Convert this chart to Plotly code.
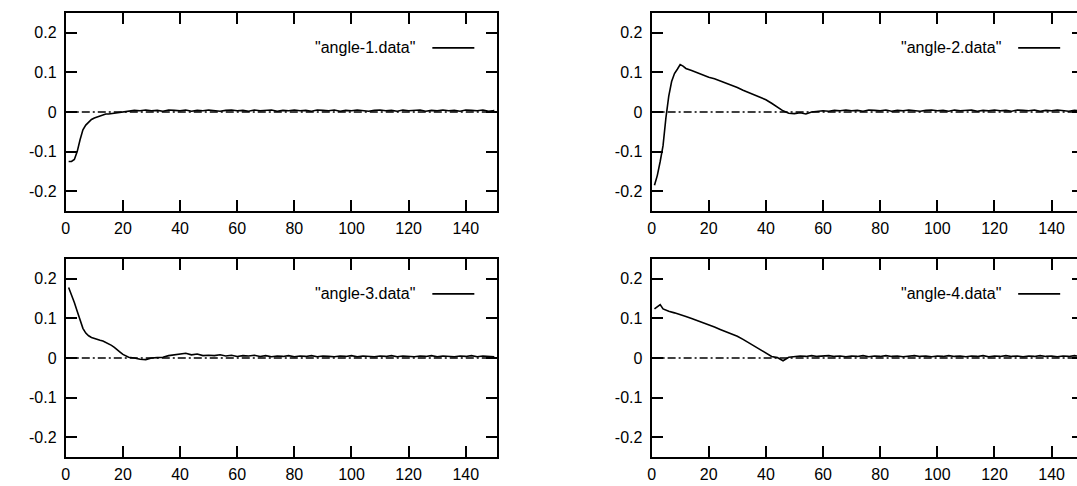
import plotly.graph_objects as go

# ---------------- data ----------------
x_tick_vals = [0, 20, 40, 60, 80, 100, 120, 140]
x_tick_text = ["0", "20", "40", "60", "80", "100", "120", "140"]
y_tick_vals = [-0.2, -0.1, 0, 0.1, 0.2]
y_tick_text = ["-0.2", "-0.1", "0", "0.1", "0.2"]

series_names = ['"angle-1.data"', '"angle-2.data"', '"angle-3.data"', '"angle-4.data"']

angle1_x = list(range(1, 21)) + list(range(22, 151, 2))
angle1_y = [-0.125, -0.125, -0.12, -0.10, -0.07, -0.045, -0.033, -0.025, -0.019, -0.015,
            -0.012, -0.009, -0.007, -0.005, -0.005, -0.004, -0.002, -0.002, -0.001, 0.0,
            0.002, 0.004, 0.003, 0.005, 0.003, 0.004, 0.002, 0.005, 0.004, 0.003,
            0.005, 0.002, 0.004, 0.003, 0.005, 0.004, 0.002, 0.004, 0.005, 0.003,
            0.004, 0.002, 0.005, 0.003, 0.004, 0.005, 0.002, 0.004, 0.003, 0.005,
            0.003, 0.004, 0.002, 0.005, 0.004, 0.003, 0.005, 0.002, 0.004, 0.003,
            0.005, 0.004, 0.002, 0.004, 0.005, 0.003, 0.004, 0.002, 0.005, 0.003,
            0.004, 0.005, 0.002, 0.004, 0.003, 0.005, 0.003, 0.004, 0.002, 0.005,
            0.004, 0.003, 0.005, 0.002, 0.004]

angle2_x = list(range(1, 13)) + list(range(14, 151, 2))
angle2_y = [-0.185, -0.16, -0.125, -0.085, -0.015, 0.04, 0.077, 0.097, 0.108, 0.12,
            0.116, 0.11,
            0.105, 0.099, 0.094, 0.088, 0.084, 0.079, 0.074, 0.069, 0.062, 0.055,
            0.049, 0.043, 0.037, 0.031, 0.022, 0.012, 0.003, -0.003, -0.004, -0.002,
            -0.005, 0.0,
            0.002, 0.003, 0.002, 0.004, 0.003, 0.005, 0.003, 0.004, 0.002, 0.005,
            0.004, 0.003, 0.005, 0.002, 0.004, 0.003, 0.005, 0.004, 0.002, 0.004,
            0.005, 0.003, 0.004, 0.002, 0.005, 0.003, 0.004, 0.005, 0.002, 0.004,
            0.003, 0.005, 0.003, 0.004, 0.002, 0.005, 0.004, 0.003, 0.005, 0.002,
            0.004, 0.003, 0.005, 0.004, 0.002, 0.004, 0.003]

angle3_x = list(range(1, 23)) + list(range(24, 151, 2))
angle3_y = [0.178, 0.16, 0.14, 0.118, 0.095, 0.075, 0.063, 0.056, 0.052, 0.049,
            0.047, 0.045, 0.043, 0.04, 0.037, 0.032, 0.027, 0.022, 0.015, 0.009,
            0.005, 0.002,
            0.0, -0.003, -0.004, 0.0, 0.001, 0.002, 0.006, 0.008, 0.01, 0.012,
            0.008, 0.01, 0.006,
            0.007, 0.006, 0.008, 0.005, 0.007, 0.004, 0.006, 0.005, 0.007, 0.004,
            0.006, 0.003, 0.005, 0.004, 0.006, 0.003, 0.005, 0.004, 0.006, 0.003,
            0.005, 0.004, 0.003, 0.005, 0.004, 0.006, 0.003, 0.005, 0.004, 0.003,
            0.005, 0.004, 0.006, 0.003, 0.005, 0.004, 0.003, 0.005, 0.004, 0.006,
            0.003, 0.005, 0.004, 0.003, 0.005, 0.004, 0.006, 0.003, 0.005, 0.004,
            0.003]

angle4_x = list(range(1, 7)) + list(range(8, 151, 2))
angle4_y = [0.124, 0.13, 0.135, 0.124, 0.12, 0.118,
            0.114, 0.11, 0.105, 0.1, 0.095, 0.089, 0.085, 0.078, 0.072, 0.067,
            0.061, 0.055, 0.047, 0.038, 0.029, 0.02, 0.013, 0.004, 0.001, -0.007,
            0.002,
            0.003, 0.005, 0.004, 0.006, 0.004, 0.005, 0.006, 0.004, 0.005, 0.003,
            0.005, 0.004, 0.006, 0.003, 0.005, 0.004, 0.006, 0.004, 0.005, 0.003,
            0.005, 0.006, 0.004, 0.005, 0.003, 0.005, 0.004, 0.006, 0.004, 0.005,
            0.003, 0.005, 0.004, 0.006, 0.003, 0.005, 0.004, 0.006, 0.004, 0.005,
            0.003, 0.005, 0.004, 0.006, 0.004, 0.005, 0.003, 0.005, 0.004, 0.006,
            0.004]

xs = [angle1_x, angle2_x, angle3_x, angle4_x]
ys = [angle1_y, angle2_y, angle3_y, angle4_y]

# ---------------- layout ----------------
# The figure is a little wider than the window: the right column's frame
# runs past the window edge, as in the reference.
W, H = 1092, 486
FONT = dict(family="Liberation Sans, Arial, sans-serif", size=16, color="black")

col_dom = [[62 / W, 495 / W], [650 / W, 1083 / W]]
row_dom = [[1 - 211 / H, 1 - 13 / H], [1 - 457 / H, 1 - 259 / H]]
x_range = [0, 151]
y_range = [-0.25, 0.25]

fig = go.Figure()
layout = dict(width=W, height=H, margin=dict(l=0, r=0, t=0, b=0),
              paper_bgcolor="white", plot_bgcolor="white", showlegend=False,
              font=FONT, shapes=[], annotations=[])

for i in range(4):
    r, c = divmod(i, 2)
    xn = "" if i == 0 else str(i + 1)
    xa, ya = "x" + xn, "y" + xn
    fig.add_trace(go.Scatter(x=xs[i], y=ys[i], mode="lines", name=series_names[i],
                             line=dict(color="black", width=1.6),
                             xaxis=xa, yaxis=ya, hoverinfo="skip"))
    layout["xaxis" + xn] = dict(domain=col_dom[c], range=x_range, anchor=ya,
                                tickvals=x_tick_vals, ticktext=x_tick_text,
                                ticks="inside", ticklen=11, tickwidth=2, tickcolor="black",
                                showline=True, linewidth=2, linecolor="black",
                                mirror="ticks", showgrid=False, zeroline=False,
                                ticklabelstandoff=2, tickfont=FONT)
    layout["yaxis" + xn] = dict(domain=row_dom[r], range=y_range, anchor=xa,
                                tickvals=y_tick_vals, ticktext=y_tick_text,
                                ticks="inside", ticklen=11, tickwidth=2, tickcolor="black",
                                showline=True, linewidth=2, linecolor="black",
                                mirror="ticks", showgrid=False, zeroline=False,
                                ticklabelstandoff=4, tickfont=FONT)
    # dash-dot zero axis
    layout["shapes"].append(dict(type="line", xref=xa + " domain", yref=ya,
                                 x0=0, x1=1, y0=0, y1=0, layer="below",
                                 line=dict(color="black", width=1.3, dash="8px,3px,2px,3px")))
    # gnuplot-style key: title, then line sample
    layout["annotations"].append(dict(x=123.1, y=0.162, xref=xa, yref=ya,
                                      text=series_names[i], showarrow=False,
                                      xanchor="right", yanchor="middle", font=FONT))
    layout["shapes"].append(dict(type="line", xref=xa, yref=ya,
                                 x0=128.3, x1=143, y0=0.162, y1=0.162,
                                 line=dict(color="black", width=1.6)))

fig.update_layout(**layout)

page_js = ("document.body.style.margin='0px';"
           "document.body.style.overflow='hidden';"
           "document.documentElement.style.overflow='hidden';")
fig.write_html("out.html", post_script=page_js,
               config={"displayModeBar": False, "staticPlot": True})
